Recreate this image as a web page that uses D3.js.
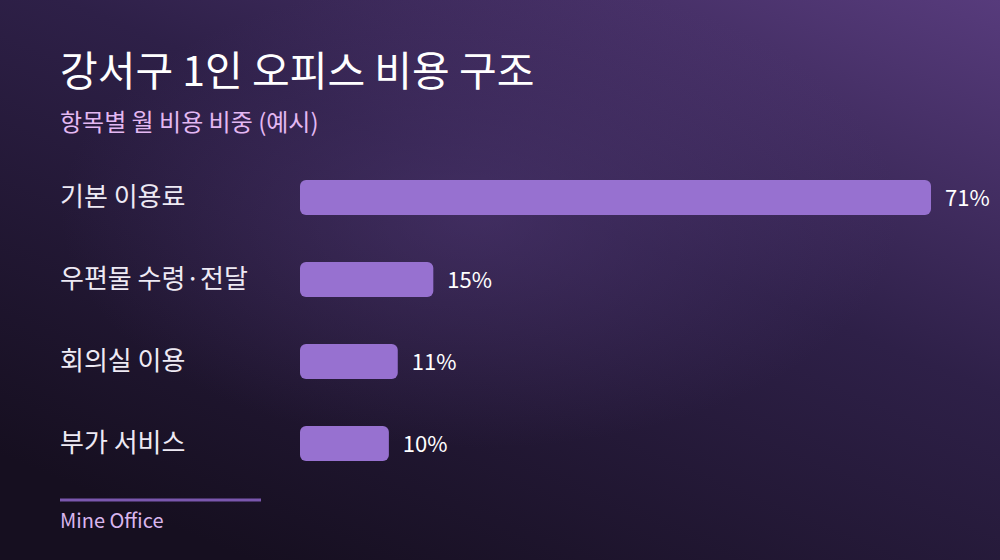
<!DOCTYPE html>
<html>
<head>
<meta charset="utf-8">
<script src="https://cdn.jsdelivr.net/npm/d3@7"></script>
<style>
  html, body { margin: 0; padding: 0; background: #1a1226; }
  svg { display: block; }
  text { font-family: "Noto Sans CJK KR", "Noto Sans", sans-serif; }
</style>
</head>
<body>
<div id="chart"></div>
<script>
// data
let categories = ['기본 이용료', '우편물 수령·전달', '회의실 이용', '부가 서비스'],
values = [71, 15, 11, 10];

let title = '강서구 1인 오피스 비용 구조',
subtitle = '항목별 월 비용 비중 (예시)',
source = 'Mine Office';

let width = 1000,
height = 560,
svg = d3.select('#chart').append('svg').attr('width', width).attr('height', height);

let defs = svg.append('defs');

//background gradient, light top-right to dark bottom-left
let bg = defs.append('linearGradient')
.attr('id', 'bg_grad')
.attr('x1', '100%').attr('y1', '0%')
.attr('x2', '25%').attr('y2', '100%');
bg.append('stop').attr('offset', '0%').attr('stop-color', '#573b7c');
bg.append('stop').attr('offset', '45%').attr('stop-color', '#2e2048');
bg.append('stop').attr('offset', '100%').attr('stop-color', '#160f20');

let glow = defs.append('radialGradient')
.attr('id', 'glow_grad')
.attr('cx', '48%').attr('cy', '38%').attr('r', '42%');
glow.append('stop').attr('offset', '0%').attr('stop-color', '#5a3f82').attr('stop-opacity', 0.45);
glow.append('stop').attr('offset', '100%').attr('stop-color', '#5a3f82').attr('stop-opacity', 0);

svg.append('rect').attr('width', width).attr('height', height).style('fill', 'url(#bg_grad)');
svg.append('rect').attr('width', width).attr('height', height).style('fill', 'url(#glow_grad)');

//titles
svg.append('text')
.attr('x', 60).attr('y', 86)
.text(title)
.style('font-size', '41px')
.style('font-weight', 400)
.style('fill', '#ffffff');

svg.append('text')
.attr('x', 60).attr('y', 131)
.text(subtitle)
.style('font-size', '24px')
.style('fill', '#e3b8f2');

//scales
let x = d3.scaleLinear().domain([0, 71]).range([300, 931]),
y = d3.scaleBand().domain(categories).paddingInner(1 - 35 / 82).paddingOuter(0);
y.range([180, 180 + 82 * 4 - (82 - 35)]);

let rows = svg.append('g').selectAll('.row')
.data(categories)
.enter()
.append('g')
.attr('class', 'row');

rows.append('rect')
.attr('x', x(0))
.attr('y', d=>y(d))
.attr('width', (d, i)=>x(values[i]) - x(0))
.attr('height', y.bandwidth())
.attr('rx', 6)
.attr('ry', 6)
.style('fill', '#9771d0');

rows.append('text')
.attr('x', 60)
.attr('y', d=>y(d) + y.bandwidth() / 2 - 3)
.attr('dominant-baseline', 'central')
.text(d=>d)
.style('font-size', '26px')
.style('fill', '#eeeaf4');

rows.append('text')
.attr('x', (d, i)=>x(values[i]) + 14)
.attr('y', d=>y(d) + y.bandwidth() / 2 - 2)
.attr('dominant-baseline', 'central')
.text((d, i)=>values[i] + '%')
.style('font-size', '22px')
.style('fill', '#ffffff');

//footer
svg.append('line')
.attr('x1', 60).attr('x2', 261)
.attr('y1', 500).attr('y2', 500)
.style('stroke', '#7a57ae')
.style('stroke-width', 3);

svg.append('text')
.attr('x', 60).attr('y', 528)
.text(source)
.style('font-size', '20px')
.style('fill', '#d9b6ee');
</script>
</body>
</html>
